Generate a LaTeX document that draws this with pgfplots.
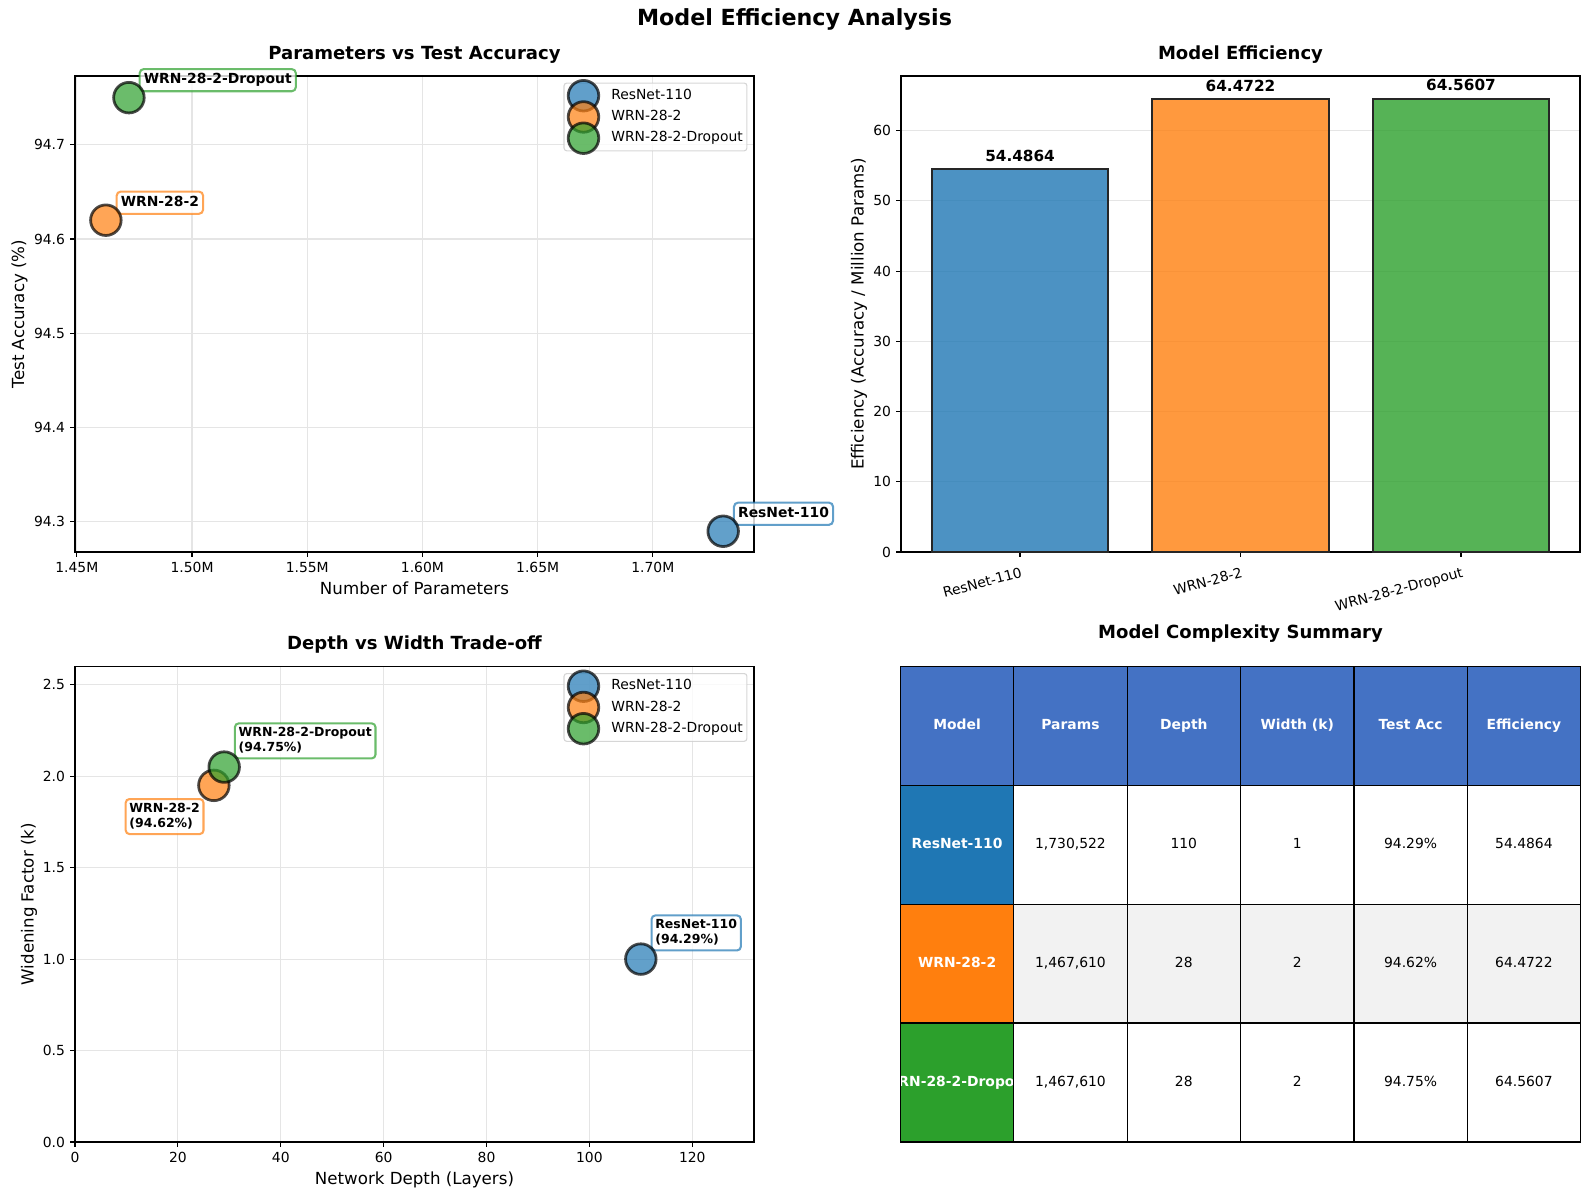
\documentclass[border=0pt]{standalone}
\usepackage{fontspec}
\setmainfont{DejaVu Sans}
\usepackage{pgfplots}
\pgfplotsset{compat=1.18}

\definecolor{tabblue}{HTML}{1F77B4}
\definecolor{taborange}{HTML}{FF7F0E}
\definecolor{tabgreen}{HTML}{2CA02C}
\definecolor{hdrblue}{HTML}{4472C4}
\definecolor{rowgray}{HTML}{F2F2F2}

\tikzset{
  annot/.style={draw=#1, draw opacity=0.7, line width=1.5pt, rounded corners=3pt,
    fill=white, fill opacity=0.8, text opacity=1, inner sep=3pt,
    font=\fontsize{10}{12}\selectfont\bfseries, text height=7.6pt, text depth=2.4pt},
  annotb/.style={draw=#1, draw opacity=0.7, line width=1.5pt, rounded corners=2.7pt,
    fill=white, fill opacity=0.8, text opacity=1, inner sep=2.7pt,
    font=\fontsize{9}{10.8}\selectfont\bfseries, align=left},
  tabtext/.style={inner sep=0pt, text height=7.6pt, text depth=2.4pt, font=\fontsize{10}{12}\selectfont},
}
\newcommand{\topstrut}{\rule{0pt}{6.84pt}}
\newcommand{\botstrut}{\rule[-2.16pt]{0pt}{2.16pt}}

\pgfplotsset{
  mplaxis/.style={
    scale only axis, anchor=south west, width=488.88pt,
    axis line style={line width=0.8pt},
    tick align=outside, major tick length=3.5pt,
    every tick/.style={line width=0.8pt, black},
    xtick pos=lower, ytick pos=left,
    ticklabel style={font=\fontsize{10}{12}\selectfont},
    /pgf/number format/assume math mode=true,
    xticklabel style={anchor=base, inner sep=0pt},
    xticklabel shift=11.6pt,
    yticklabel style={anchor=east, inner sep=0pt},
    yticklabel shift=3.5pt,
    grid style={line width=0.8pt, black!10},
    title style={font=\fontsize{13}{15.6}\selectfont\bfseries, at={(0.5,1)}, anchor=base, yshift=6pt, inner sep=0pt},
    xlabel style={font=\fontsize{12}{14.4}\selectfont, at={(axis description cs:0.5,0)}, anchor=base, yshift=-30.6pt, inner sep=0pt},
    ylabel style={font=\fontsize{12}{14.4}\selectfont, anchor=base, inner sep=0pt},
    clip=false,
  },
  mpllegend/.style={
    legend style={at={(axis description cs:1,1)}, anchor=north east, xshift=-4.7pt, yshift=-4.7pt,
      draw=black!20, line width=0.8pt, fill=white, fill opacity=0.8, draw opacity=0.8, text opacity=1,
      rounded corners=2pt, inner xsep=3pt, inner ysep=4.1pt,
      font=\fontsize{10}{12}\selectfont,
      nodes={inner sep=0pt, text height=7.6pt, text depth=2.4pt},
      row sep=5.3pt},
    legend cell align=left,
    legend image code/.code={%
      \path[draw=none, fill=none] (0pt,-3pt) rectangle (31pt,3pt);
      \draw[overlay,##1] plot coordinates {(11pt,0pt)};},
  },
  scat/.style={only marks, mark=*, mark size=11pt,
    mark options={fill=#1, fill opacity=0.7, draw=black, draw opacity=0.7, line width=2pt}},
  bar/.style={ybar, bar width=0.8, bar shift=0pt, fill=#1, fill opacity=0.8, draw=black!85, line width=1.5pt},
}

\begin{document}
\begin{tikzpicture}
\path[use as bounding box] (0pt,0pt) rectangle (1144.08pt,863.28pt);

% ---------- Parameters vs Test Accuracy ----------
\begin{axis}[mplaxis, mpllegend,
  at={(54pt,465.84pt)}, height=342.72pt,
  xmin=1.4492, xmax=1.7439, ymin=94.268, ymax=94.773,
  xtick={1.45,1.5,1.55,1.6,1.65,1.7},
  xticklabels={1.45M,1.50M,1.55M,1.60M,1.65M,1.70M},
  ytick={94.3,94.4,94.5,94.6,94.7},
  yticklabel style={/pgf/number format/.cd, fixed, fixed zerofill, precision=1},
  grid=major,
  title={Parameters vs Test Accuracy},
  xlabel={Number of Parameters},
  ylabel={Test Accuracy (\%)},
  ylabel style={at={(axis description cs:-0.0751,0.5)}},
  legend entries={ResNet-110,WRN-28-2,WRN-28-2-Dropout},
]
\addplot[scat=tabblue] coordinates {(1.730522,94.29)};
\addplot[scat=taborange] coordinates {(1.4626,94.62)};
\addplot[scat=tabgreen] coordinates {(1.4726,94.75)};
\node[annot=tabblue, anchor=base west] at ([xshift=7pt,yshift=10pt]axis cs:1.730522,94.29) {ResNet-110};
\node[annot=taborange, anchor=base west] at ([xshift=7pt,yshift=10pt]axis cs:1.4626,94.62) {WRN-28-2};
\node[annot=tabgreen, anchor=base west] at ([xshift=7pt,yshift=10pt]axis cs:1.4726,94.75) {WRN-28-2-Dropout};
\end{axis}

% ---------- Model Efficiency ----------
\begin{axis}[mplaxis,
  at={(648.72pt,465.84pt)}, height=342.72pt,
  xmin=-0.54, xmax=2.54, ymin=0, ymax=67.789,
  xtick={0,1,2},
  xticklabels={ResNet-110,WRN-28-2,WRN-28-2-Dropout},
  xticklabel style={anchor=north east, rotate=15, text height=7.6pt, text depth=2.4pt},
  xticklabel shift=7pt,
  ytick={0,10,20,30,40,50,60},
  ymajorgrids=true,
  title={Model Efficiency},
  ylabel={Efficiency (Accuracy / Million Params)},
  ylabel style={at={(axis description cs:-0.0552,0.5)}},
  nodes near coords={\pgfmathprintnumber[fixed,fixed zerofill,precision=4]{\pgfplotspointmeta}},
  every node near coord/.style={anchor=south, inner sep=0pt, text depth=2.64pt, yshift=2.5pt,
    font=\fontsize{11}{13.2}\selectfont\bfseries, fill opacity=1, text opacity=1},
]
\addplot[bar=tabblue] coordinates {(0,54.4864)};
\addplot[bar=taborange] coordinates {(1,64.4722)};
\addplot[bar=tabgreen] coordinates {(2,64.5607)};
\end{axis}

% ---------- Depth vs Width Trade-off ----------
\begin{axis}[mplaxis, mpllegend,
  at={(54pt,41.04pt)}, height=342.36pt,
  xmin=0, xmax=132, ymin=0, ymax=2.6,
  xtick={0,20,40,60,80,100,120},
  ytick={0,0.5,1,1.5,2,2.5},
  yticklabel style={/pgf/number format/.cd, fixed, fixed zerofill, precision=1},
  grid=major,
  title={Depth vs Width Trade-off},
  xlabel={Network Depth (Layers)},
  ylabel={Widening Factor (k)},
  ylabel style={at={(axis description cs:-0.0610,0.5)}},
  legend entries={ResNet-110,WRN-28-2,WRN-28-2-Dropout},
]
\addplot[scat=tabblue] coordinates {(110,1.0)};
\addplot[scat=taborange] coordinates {(27,1.95)};
\addplot[scat=tabgreen] coordinates {(29,2.05)};
\node[annotb=tabblue, anchor=south west] at ([xshift=7pt,yshift=5.5pt]axis cs:110,1.0) {\topstrut ResNet-110\\(94.29\%)\botstrut};
\node[annotb=taborange, anchor=north east] at ([xshift=-6.7pt,yshift=-9.1pt]axis cs:27,1.95) {\topstrut WRN-28-2\\(94.62\%)\botstrut};
\node[annotb=tabgreen, anchor=south west] at ([xshift=7pt,yshift=5.5pt]axis cs:29,2.05) {\topstrut WRN-28-2-Dropout\\(94.75\%)\botstrut};
\end{axis}

% ---------- titles and summary table (pixel grid, y downwards) ----------
\begin{scope}[x=0.72pt, y=-0.72pt, shift={(0pt,863.28pt)}]
\node[anchor=base, inner sep=0pt, font=\fontsize{16}{19.2}\selectfont\bfseries] at (794.5,26) {Model Efficiency Analysis};
\node[anchor=base, inner sep=0pt, font=\fontsize{13}{15.6}\selectfont\bfseries] at (1240.5,638.7) {Model Complexity Summary};

% cell backgrounds
\fill[hdrblue] (900.4,666.5) rectangle (1580.6,785.375);
\fill[tabblue] (900.4,785.375) rectangle (1013.77,904.25);
\fill[taborange] (900.4,904.25) rectangle (1013.77,1023.125);
\fill[tabgreen] (900.4,1023.125) rectangle (1013.77,1142);
\fill[rowgray] (1013.77,904.25) rectangle (1580.6,1023.125);

% header
\foreach \c/\t in {0/Model,1/Params,2/Depth,3/Width (k),4/Test Acc,5/Efficiency}
  \node[tabtext, text=white, font=\fontsize{10}{12}\selectfont\bfseries] at ({900.4+113.367*(\c+0.5)},725.94) {\t};
% model names
\node[tabtext, text=white, font=\fontsize{10}{12}\selectfont\bfseries] at (957.08,844.81) {ResNet-110};
\node[tabtext, text=white, font=\fontsize{10}{12}\selectfont\bfseries] at (957.08,963.69) {WRN-28-2};
\node[tabtext, text=white, font=\fontsize{10}{12}\selectfont\bfseries] at (957.08,1082.56) {WRN-28-2-Dropout};
% body
\foreach \c/\t in {1/{1,730,522},2/110,3/1,4/94.29\%,5/54.4864}
  \node[tabtext] at ({900.4+113.367*(\c+0.5)},844.81) {\t};
\foreach \c/\t in {1/{1,467,610},2/28,3/2,4/94.62\%,5/64.4722}
  \node[tabtext] at ({900.4+113.367*(\c+0.5)},963.69) {\t};
\foreach \c/\t in {1/{1,467,610},2/28,3/2,4/94.75\%,5/64.5607}
  \node[tabtext] at ({900.4+113.367*(\c+0.5)},1082.56) {\t};

% cell borders
\foreach \c in {0,...,6}
  \draw[line width=0.9pt] ({900.4+113.367*\c},666.5) -- ({900.4+113.367*\c},1142);
\foreach \r in {0,...,4}
  \draw[line width=0.9pt] (900.4,{666.5+118.875*\r}) -- (1580.6,{666.5+118.875*\r});
\end{scope}
\end{tikzpicture}
\end{document}
